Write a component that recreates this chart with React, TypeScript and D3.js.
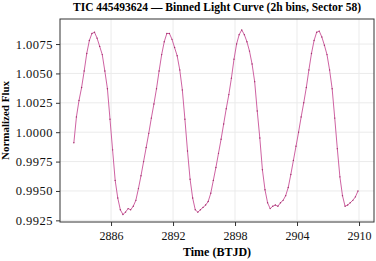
import React, { useEffect, useRef } from "react";
import * as d3 from "d3";

// 6h-spaced samples
const startTime = 2882.4;
const sampleStep = 0.25;
const flux = [
  0.9991, 1.0013, 1.0027, 1.0038, 1.0052, 1.0067, 1.0078, 1.0084, 1.0085, 1.008,
  1.0073, 1.0066, 1.0052, 1.0037, 1.0011, 0.9985, 0.9959, 0.9944, 0.9934, 0.993,
  0.9932, 0.9935, 0.9934, 0.9937, 0.9942, 0.9952, 0.9963, 0.9975, 0.9987, 0.9999,
  1.0012, 1.0024, 1.0037, 1.0052, 1.0066, 1.0077, 1.0084, 1.0084, 1.0079, 1.0072,
  1.0065, 1.0053, 1.0036, 1.0011, 0.9984, 0.996, 0.9944, 0.9934, 0.9932, 0.9934,
  0.9936, 0.9938, 0.9941, 0.9948, 0.9959, 0.997, 0.9982, 0.9994, 1.0007, 1.002,
  1.0032, 1.0046, 1.0062, 1.0075, 1.0083, 1.0087, 1.0083, 1.0077, 1.0069, 1.0058,
  1.0043, 1.0018, 0.9995, 0.9968, 0.9951, 0.994, 0.9935, 0.9937, 0.9938, 0.9937,
  0.994, 0.9942, 0.9946, 0.9953, 0.9964, 0.9976, 0.9988, 1.0, 1.0013, 1.0025,
  1.0038, 1.0053, 1.0067, 1.0078, 1.0085, 1.0086, 1.0081, 1.0074, 1.0066, 1.0053,
  1.0037, 1.0012, 0.9986, 0.9962, 0.9946, 0.9937, 0.9938, 0.994, 0.9942, 0.9945,
  0.995,
];
const xTicks = [2886, 2892, 2898, 2904, 2910];
const yTicks = [0.9925, 0.995, 0.9975, 1.0, 1.0025, 1.005, 1.0075];

function App() {
  const ref = useRef(null);

  useEffect(() => {
    const width = 376;
    const height = 261;
    const margin = { top: 19, right: 2, bottom: 39, left: 60 };
    const font = "'Liberation Serif', 'Times New Roman', serif";

    const svg = d3.select(ref.current);
    svg.selectAll("*").remove();

    const data = flux.map((f, i) => ({ t: startTime + i * sampleStep, f }));

    const x = d3.scaleLinear().domain([2881.06, 2911.45]).range([margin.left, width - margin.right]);
    const y = d3.scaleLinear().domain([0.99236, 1.00963]).range([height - margin.bottom, margin.top]);

    // grid
    svg.append("g")
      .selectAll("line")
      .data(xTicks)
      .enter()
      .append("line")
      .attr("x1", (d) => x(d)).attr("x2", (d) => x(d))
      .attr("y1", margin.top).attr("y2", height - margin.bottom)
      .attr("stroke", "#ebebeb");
    svg.append("g")
      .selectAll("line")
      .data(yTicks)
      .enter()
      .append("line")
      .attr("x1", margin.left).attr("x2", width - margin.right)
      .attr("y1", (d) => y(d)).attr("y2", (d) => y(d))
      .attr("stroke", "#ebebeb");

    const line = d3.line().x((d) => x(d.t)).y((d) => y(d.f));
    svg.append("path")
      .datum(data)
      .attr("d", line)
      .attr("fill", "none")
      .attr("stroke", "#cf63a3")
      .attr("stroke-width", 1);
    svg.append("g")
      .selectAll("circle")
      .data(data)
      .enter()
      .append("circle")
      .attr("cx", (d) => x(d.t))
      .attr("cy", (d) => y(d.f))
      .attr("r", 0.7)
      .attr("fill", "#a3306c");

    // axes
    const xAxis = svg.append("g")
      .attr("transform", `translate(0,${height - margin.bottom})`)
      .call(d3.axisBottom(x).tickValues(xTicks).tickSize(4).tickSizeOuter(0).tickFormat(d3.format("d")));
    const yAxis = svg.append("g")
      .attr("transform", `translate(${margin.left},0)`)
      .call(d3.axisLeft(y).tickValues(yTicks).tickSize(4).tickSizeOuter(0).tickFormat(d3.format(".4f")));
    [xAxis, yAxis].forEach((g) => {
      g.select(".domain").remove();
      g.selectAll("line").attr("stroke", "#333");
      g.selectAll("text").attr("font-family", font).attr("font-size", 12).attr("fill", "#111");
    });
    xAxis.selectAll("text").attr("dy", "0.95em");
    yAxis.selectAll("text").attr("font-size", 12.5).attr("letter-spacing", 0.5);

    // frame
    svg.append("rect")
      .attr("x", margin.left).attr("y", margin.top)
      .attr("width", width - margin.left - margin.right)
      .attr("height", height - margin.top - margin.bottom)
      .attr("fill", "none")
      .attr("stroke", "#333");

    svg.append("text")
      .attr("x", (margin.left + width - margin.right) / 2)
      .attr("y", 11)
      .attr("text-anchor", "middle")
      .attr("font-family", font)
      .attr("font-weight", "bold")
      .attr("font-size", 11.5)
      .text("TIC 445493624 — Binned Light Curve (2h bins, Sector 58)");

    svg.append("text")
      .attr("x", (margin.left + width - margin.right) / 2)
      .attr("y", 256)
      .attr("text-anchor", "middle")
      .attr("font-family", font)
      .attr("font-weight", "bold")
      .attr("font-size", 12)
      .text("Time (BTJD)");

    svg.append("text")
      .attr("transform", `translate(9,${(margin.top + height - margin.bottom) / 2}) rotate(-90)`)
      .attr("text-anchor", "middle")
      .attr("font-family", font)
      .attr("font-weight", "bold")
      .attr("font-size", 11)
      .text("Normalized Flux");
  }, []);

  return (
    <svg ref={ref} width={376} height={261} style={{ position: "absolute", left: 0, top: 0, background: "#fff" }}></svg>
  );
}

export default App;
